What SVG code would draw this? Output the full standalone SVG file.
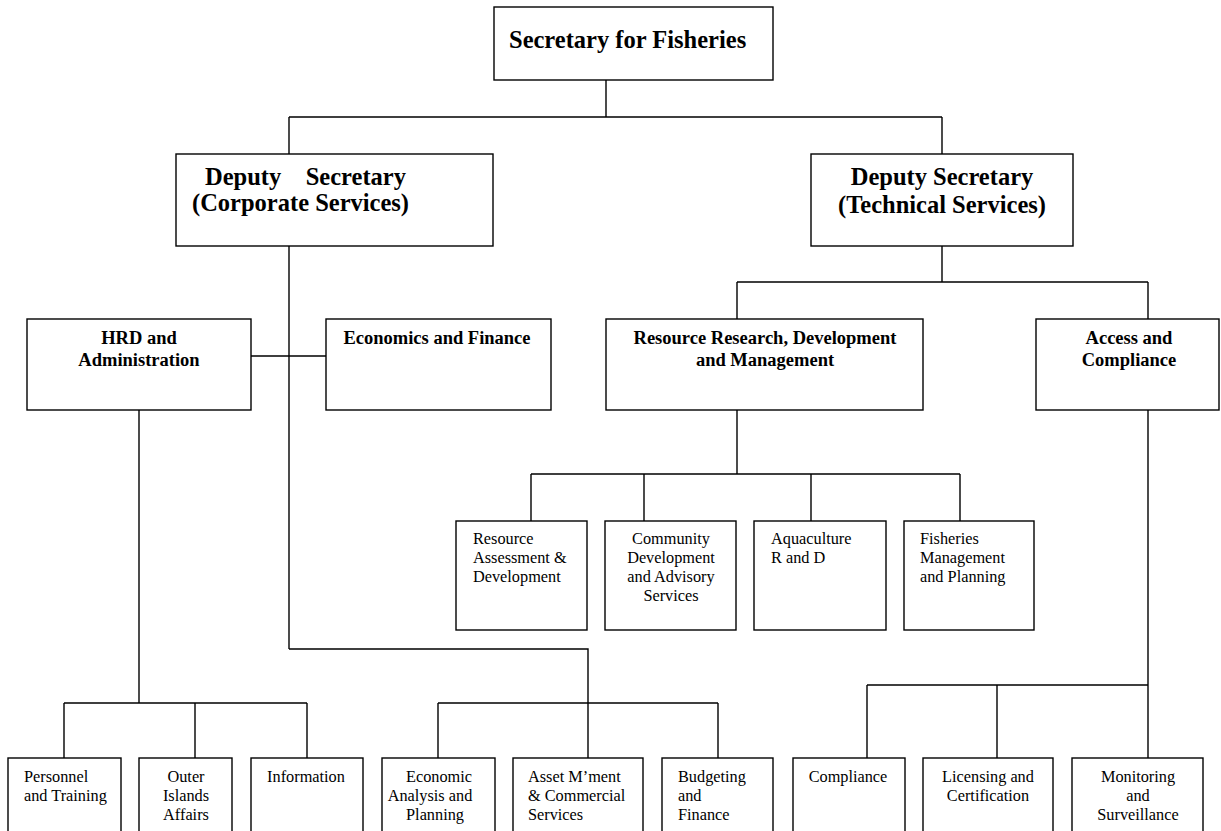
<svg xmlns="http://www.w3.org/2000/svg" width="1221" height="831" viewBox="0 0 1221 831">
<style>
.box{fill:#fff;stroke:#000;stroke-width:1.4}
.c{fill:none;stroke:#000;stroke-width:1.4}
.t1{font-family:"Liberation Serif","Times New Roman",serif;font-weight:bold;font-size:24.5px;fill:#000}
.t2{font-family:"Liberation Serif","Times New Roman",serif;font-weight:bold;font-size:18.5px;fill:#000}
.t3{font-family:"Liberation Serif","Times New Roman",serif;font-size:16.3px;fill:#000}
.m{text-anchor:middle}
</style>
<rect width="1221" height="831" fill="#fff"/>
<g id="connectors">
<path class="c" d="M606,80V117M289,117H942M289,117V154M942,117V154"/>
<path class="c" d="M289,246V649M251,356H326M289,649H588V758M438,703H718M438,703V758M718,703V758"/>
<path class="c" d="M139,410V703M64,703H307M64,703V758M195,703V758M307,703V758"/>
<path class="c" d="M942,246V282M737,282H1148M737,282V319M1148,282V319"/>
<path class="c" d="M737,410V474M531,474H960M531,474V521M644,474V521M811,474V521M960,474V521"/>
<path class="c" d="M1148,410V758M867,685H1148M867,685V758M997,685V758"/>
</g>
<g id="secretary">
<rect class="box" x="494" y="7" width="279" height="73"/>
<text class="t1" x="509" y="48">Secretary for Fisheries</text>
</g>
<g id="deputy-corporate">
<rect class="box" x="176" y="154" width="317" height="92"/>
<text class="t1" x="205" y="185" xml:space="preserve">Deputy    Secretary</text>
<text class="t1" x="192" y="211">(Corporate Services)</text>
</g>
<g id="deputy-technical">
<rect class="box" x="811" y="154" width="262" height="92"/>
<text class="t1 m" x="942" y="185">Deputy Secretary</text>
<text class="t1 m" x="942" y="213">(Technical Services)</text>
</g>
<g id="hrd">
<rect class="box" x="27" y="319" width="224" height="91"/>
<text class="t2 m" x="139" y="344">HRD and</text>
<text class="t2 m" x="139" y="366">Administration</text>
</g>
<g id="econ-finance">
<rect class="box" x="326" y="319" width="225" height="91"/>
<text class="t2 m" x="437" y="344">Economics and Finance</text>
</g>
<g id="rrdm">
<rect class="box" x="606" y="319" width="317" height="91"/>
<text class="t2 m" x="765" y="344">Resource Research, Development</text>
<text class="t2 m" x="765" y="366">and Management</text>
</g>
<g id="access">
<rect class="box" x="1036" y="319" width="183" height="91"/>
<text class="t2 m" x="1129" y="344">Access and</text>
<text class="t2 m" x="1129" y="366">Compliance</text>
</g>
<g id="resource-assessment">
<rect class="box" x="456" y="521" width="131" height="109"/>
<text class="t3" x="473" y="544">Resource</text>
<text class="t3" x="473" y="563">Assessment &amp;</text>
<text class="t3" x="473" y="582">Development</text>
</g>
<g id="community-dev">
<rect class="box" x="605" y="521" width="131" height="109"/>
<text class="t3 m" x="671" y="544">Community</text>
<text class="t3 m" x="671" y="563">Development</text>
<text class="t3 m" x="671" y="582">and Advisory</text>
<text class="t3 m" x="671" y="601">Services</text>
</g>
<g id="aquaculture">
<rect class="box" x="754" y="521" width="132" height="109"/>
<text class="t3" x="771" y="544">Aquaculture</text>
<text class="t3" x="771" y="563">R and D</text>
</g>
<g id="fisheries-mgmt">
<rect class="box" x="904" y="521" width="130" height="109"/>
<text class="t3" x="920" y="544">Fisheries</text>
<text class="t3" x="920" y="563">Management</text>
<text class="t3" x="920" y="582">and Planning</text>
</g>
<g id="personnel">
<rect class="box" x="8" y="758" width="113" height="80"/>
<text class="t3" x="24" y="782">Personnel</text>
<text class="t3" x="24" y="801">and Training</text>
</g>
<g id="outer-islands">
<rect class="box" x="139" y="758" width="93" height="80"/>
<text class="t3 m" x="186" y="782">Outer</text>
<text class="t3 m" x="186" y="801">Islands</text>
<text class="t3 m" x="186" y="820">Affairs</text>
</g>
<g id="information">
<rect class="box" x="251" y="758" width="112" height="80"/>
<text class="t3 m" x="306" y="782">Information</text>
</g>
<g id="economic-analysis">
<rect class="box" x="382" y="758" width="113" height="80"/>
<text class="t3 m" x="439" y="782">Economic</text>
<text class="t3 m" x="430" y="801">Analysis and</text>
<text class="t3 m" x="435" y="820">Planning</text>
</g>
<g id="asset-mgmt">
<rect class="box" x="513" y="758" width="130" height="80"/>
<text class="t3" x="528" y="782">Asset M’ment</text>
<text class="t3" x="528" y="801">&amp; Commercial</text>
<text class="t3" x="528" y="820">Services</text>
</g>
<g id="budgeting">
<rect class="box" x="662" y="758" width="111" height="80"/>
<text class="t3" x="678" y="782">Budgeting</text>
<text class="t3" x="678" y="801">and</text>
<text class="t3" x="678" y="820">Finance</text>
</g>
<g id="compliance">
<rect class="box" x="793" y="758" width="112" height="80"/>
<text class="t3 m" x="848" y="782">Compliance</text>
</g>
<g id="licensing">
<rect class="box" x="923" y="758" width="130" height="80"/>
<text class="t3 m" x="988" y="782">Licensing and</text>
<text class="t3 m" x="988" y="801">Certification</text>
</g>
<g id="monitoring">
<rect class="box" x="1072" y="758" width="131" height="80"/>
<text class="t3 m" x="1138" y="782">Monitoring</text>
<text class="t3 m" x="1138" y="801">and</text>
<text class="t3 m" x="1138" y="820">Surveillance</text>
</g>
</svg>
